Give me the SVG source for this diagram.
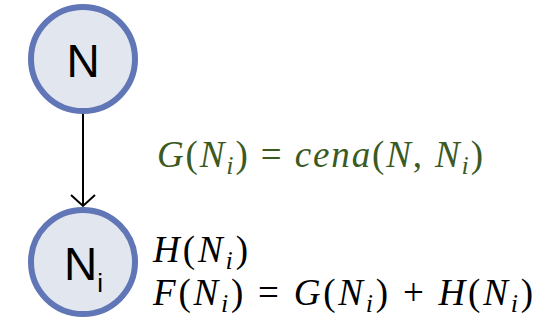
<svg xmlns="http://www.w3.org/2000/svg" width="552" height="320" viewBox="0 0 552 320">
<style>
.node{fill:#e2e6ee;stroke:#6176b6;stroke-width:6}
.lbl{font-family:"Liberation Sans",Arial,sans-serif;font-size:46px;fill:#000}
.math{font-family:"Liberation Serif","DejaVu Serif",serif;font-size:37px;font-style:italic}
.up{font-style:normal}
.sub{font-size:26px}
</style>
<defs>
<marker id="arr" markerWidth="26" markerHeight="26" refX="12" refY="13" orient="auto" markerUnits="userSpaceOnUse">
<path d="M1,1 L12,13 L1,25" fill="none" stroke="#000" stroke-width="2"/>
</marker>
</defs>
<g id="edges">
<line x1="83" y1="114" x2="83" y2="206" stroke="#000" stroke-width="2" marker-end="url(#arr)"/>
</g>
<g id="node-N">
<circle class="node" cx="83" cy="59" r="52"/>
<text class="lbl" x="83" y="77" text-anchor="middle">N</text>
</g>
<g id="node-Ni">
<circle class="node" cx="83" cy="262" r="52"/>
<text class="lbl" x="64" y="280">N<tspan class="sub" font-size="30" dy="12">i</tspan></text>
</g>
<g id="labels">
<text class="math" x="157" y="167" fill="#3b5a1f" textLength="326" lengthAdjust="spacing">G<tspan class="up">(</tspan>N<tspan class="sub" dy="7">i</tspan><tspan class="up" dy="-7">)  =  </tspan>cena<tspan class="up">(</tspan>N<tspan class="up">, </tspan>N<tspan class="sub" dy="7">i</tspan><tspan class="up" dy="-7">)</tspan></text>
<text class="math" x="153" y="262" fill="#000" textLength="95" lengthAdjust="spacing">H<tspan class="up">(</tspan>N<tspan class="sub" dy="7">i</tspan><tspan class="up" dy="-7">)</tspan></text>
<text class="math" x="153" y="305" fill="#000" textLength="380" lengthAdjust="spacing">F<tspan class="up">(</tspan>N<tspan class="sub" dy="7">i</tspan><tspan class="up" dy="-7">)  =  </tspan>G<tspan class="up">(</tspan>N<tspan class="sub" dy="7">i</tspan><tspan class="up" dy="-7">)  +  </tspan>H<tspan class="up">(</tspan>N<tspan class="sub" dy="7">i</tspan><tspan class="up" dy="-7">)</tspan></text>
</g>
</svg>
